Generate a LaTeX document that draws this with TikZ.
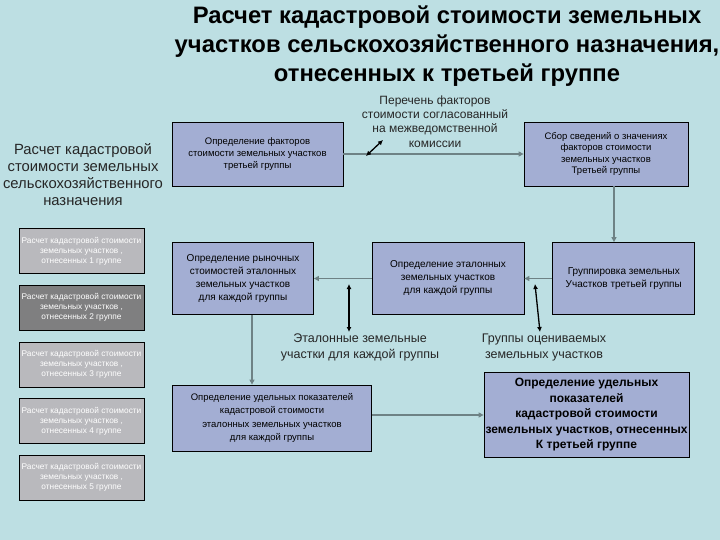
\documentclass[tikz,border=0pt]{standalone}
\usepackage{fontspec}
\setmainfont{Liberation Sans}
\usetikzlibrary{arrows.meta,positioning,calc}
\definecolor{kbg}{HTML}{BDDFE3}
\definecolor{kblue}{HTML}{A3AED3}
\definecolor{kgray}{HTML}{B9B9BD}
\definecolor{kdark}{HTML}{7F7F80}
\definecolor{kline}{HTML}{6E8285}

\begin{document}
\begin{tikzpicture}[x=1pt,y=-1pt,
  bx/.style={rectangle,draw=black,line width=0.8pt,fill=kblue,align=center,inner sep=0pt,
    font=\fontsize{9.5}{12}\selectfont},
  gb/.style={rectangle,draw=black,line width=0.8pt,fill=kgray,text=white,align=center,inner sep=0pt,
    minimum width=125,minimum height=45,font=\fontsize{8.3}{10}\selectfont},
  lbl/.style={align=center,text=black!85,inner sep=0pt},
  fl/.style={kline,line width=1.3pt,-{Triangle[length=5pt,width=5pt]}},
  dbl/.style={black,line width=1.3pt,{Latex[length=5pt,width=5pt]}-{Latex[length=5pt,width=5pt]}}]
  \fill[kbg] (0,0) rectangle (720,540);
  \useasboundingbox (0,0) rectangle (720,540);
  % title and left caption
  \node[lbl,text=black,font=\fontsize{23.8}{29}\selectfont\bfseries] (title) at (447,46)
    {Расчет кадастровой стоимости земельных\\участков сельскохозяйственного назначения,\\отнесенных к третьей группе};
  \node[lbl,font=\fontsize{14.8}{17}\selectfont] (main) at (83,175)
    {Расчет кадастровой\\стоимости земельных\\сельскохозяйственного\\назначения};
  % groups 1..5
  \foreach \g/\y/\c in {1/251/kgray,2/307.5/kdark,3/364.5/kgray,4/421/kgray,5/477.5/kgray}
    \node[gb,fill=\c] (g\g) at (81.5,\y) {Расчет кадастровой стоимости\\земельных участков ,\\отнесенных \g\ группе};
  % blocks
  \node[bx,minimum width=171,minimum height=64] (fac) at (257.5,154)
    {Определение факторов\\стоимости земельных участков\\третьей группы};
  \node[bx,minimum width=164,minimum height=64,font=\fontsize{9.5}{11.5}\selectfont] (sbor) at (606,154)
    {Сбор сведений о значениях\\факторов стоимости\\земельных участков\\Третьей группы};
  \node[bx,minimum width=141,minimum height=72,font=\fontsize{10}{13}\selectfont] (ryn) at (243,278.5)
    {Определение рыночных\\стоимостей эталонных\\земельных участков\\для каждой группы};
  \node[bx,minimum width=152,minimum height=72,font=\fontsize{10}{13}\selectfont] (etal) at (448,278.5)
    {Определение эталонных\\земельных  участков\\для каждой группы};
  \node[bx,minimum width=142,minimum height=72,font=\fontsize{10}{13}\selectfont] (grp) at (623.75,278.5)
    {Группировка земельных\\Участков третьей группы};
  \node[bx,minimum width=199,minimum height=66,font=\fontsize{9.5}{13.3}\selectfont] (udel) at (272,418)
    {Определение удельных показателей\\кадастровой стоимости\\эталонных земельных участков\\для каждой группы};
  \node[bx,minimum width=205,minimum height=85,font=\fontsize{12}{15.5}\selectfont\bfseries] (itog) at (586.5,415)
    {Определение удельных\\показателей\\кадастровой стоимости\\земельных участков, отнесенных\\К третьей группе};
  % notes
  \node[lbl,font=\fontsize{12}{14.3}\selectfont] (list) at (435,121.5)
    {Перечень факторов\\стоимости согласованный\\на межведомственной\\комиссии};
  \node[lbl,font=\fontsize{12.5}{16}\selectfont] (etl) at (360,347)
    {Эталонные земельные\\участки для каждой группы};
  \node[lbl,font=\fontsize{12.5}{16}\selectfont] (grl) at (544,347)
    {Группы оцениваемых\\земельных участков};
  % flow
  \draw[fl] (fac) -- (sbor);
  \draw[fl] ([xshift=8pt]sbor.south) -- ([xshift=8pt]sbor.south |- grp.north);
  \draw[fl] (grp) -- (etal);
  \draw[fl] (etal) -- (ryn);
  \draw[fl] ([xshift=9pt]ryn.south) -- ([xshift=9pt]ryn.south |- udel.north);
  \draw[fl] (udel.east |- itog.west) -- (itog.west);
  % links to notes
  \coordinate (d1a) at (366,156);
  \coordinate (d1b) at (383,140);
  \coordinate (d2a) at (349,284);
  \coordinate (d2b) at (349,332);
  \coordinate (d3a) at (535,284);
  \coordinate (d3b) at (540,332);
  \draw[dbl] (d1a) -- (d1b);
  \draw[dbl] (d2a) -- (d2b);
  \draw[dbl] (d3a) -- (d3b);
\end{tikzpicture}
\end{document}
